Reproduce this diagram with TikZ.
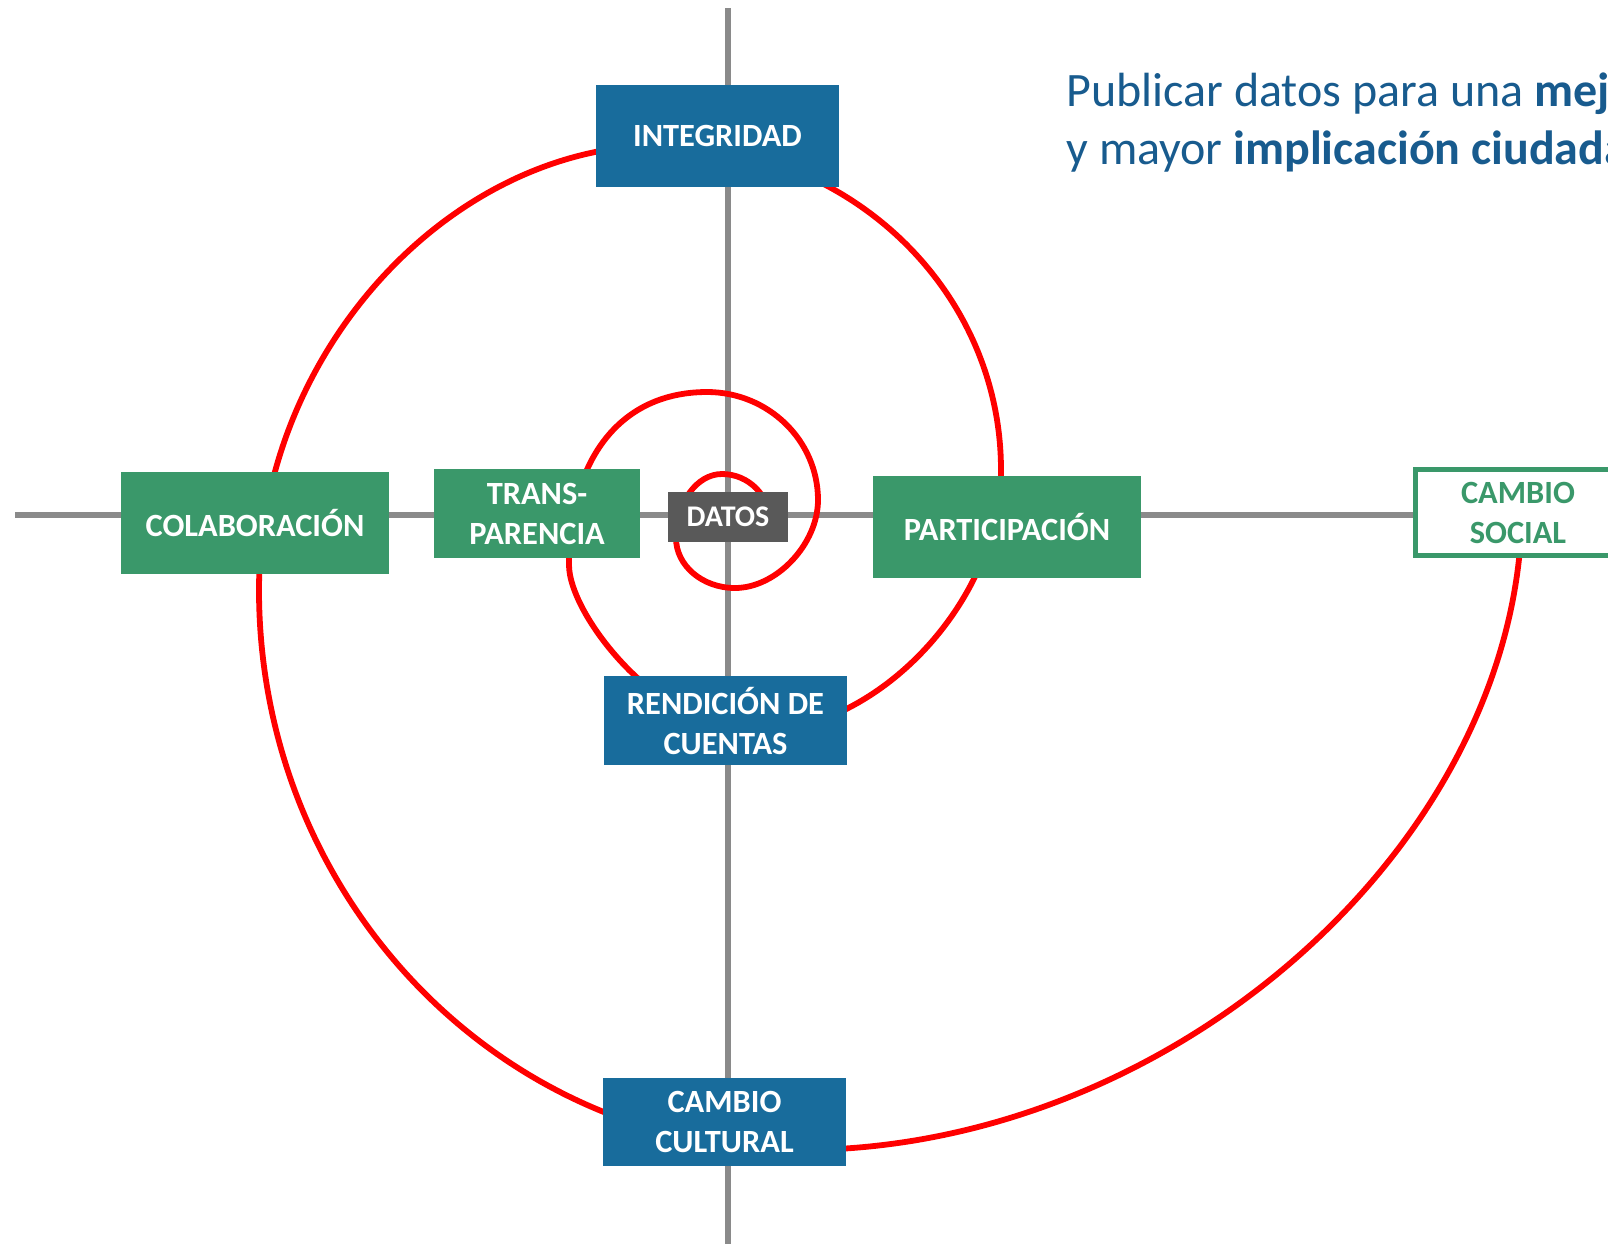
\documentclass[tikz,border=0pt]{standalone}
\usepackage{fontspec}
\setmainfont{Carlito}
\usetikzlibrary{backgrounds}
\definecolor{azul}{RGB}{24,108,156}
\definecolor{verde}{RGB}{58,152,106}
\definecolor{gris}{RGB}{89,89,89}
\definecolor{eje}{RGB}{138,138,138}
\definecolor{titulo}{RGB}{24,91,142}
\begin{document}
\begin{tikzpicture}
[x=0.5pt, y=-0.5pt,
 boxdecorate/.style={shape=rectangle, inner sep=0pt, text=white, align=center,
   font=\fontsize{16.2}{20}\selectfont\bfseries},
 ejedecorate/.style={-, line width=2.6pt, draw=eje},
 espiraldecorate/.style={-, line width=2.9pt, draw=red},
 titulodecorate/.style={anchor=base west, inner sep=0pt, text=titulo,
   font=\fontsize{24}{28.65}\selectfont}]
\useasboundingbox (0,0) rectangle (1608,1244);
%% boxes
\foreach \nodename/\x/\y/\w/\h/\colour/\texto in {
  integridad/717.5/136/243/102/azul/INTEGRIDAD,
  colaboracion/255/523/268/102/verde/COLABORACIÓN,
  transparencia/537/513.5/206/89/verde/{TRANS-\\PARENCIA},
  participacion/1007/527/268/102/verde/PARTICIPACIÓN,
  rendicion/725.5/720.5/243/89/azul/{RENDICIÓN DE\\CUENTAS},
  cultural/724.5/1122/243/88/azul/{CAMBIO\\CULTURAL}}
{
  \node (\nodename) at (\x,\y) [boxdecorate, fill=\colour,
    minimum width=\w*0.5pt, minimum height=\h*0.5pt] {\texto};
}
\node (datos) at (728,517) [boxdecorate, fill=gris, minimum width=60pt,
  minimum height=25pt, font=\fontsize{15}{18}\selectfont\bfseries] {DATOS};
\node (social) at (1518,512.5) [boxdecorate, fill=white, draw=verde,
  line width=2.35pt, text=verde, minimum width=102.5pt,
  minimum height=43pt] {CAMBIO\\SOCIAL};
%% title
\node (titulo1) at (1066,106.7) [titulodecorate]
  {Publicar datos para una \textbf{mej}};
\node (titulo2) at (1066,164) [titulodecorate]
  {y mayor \textbf{implicación ciudada}};
%% axes and spiral
\coordinate (ejeN) at (728,8);
\coordinate (ejeS) at (728,1244);
\coordinate (ejeW) at (15,515);
\foreach \nodename/\x/\y in {r0/770/522, t1/722/474, l1/676/538,
  b1/735/588, r1/818/500, t2/707/392, l2/569/565, b2/755/732,
  r2/1001/470, t3/663/145, l3/259/590, b3/800/1150, r3/1522/505}
{
  \coordinate (\nodename) at (\x,\y);
}
\begin{pgfonlayer}{background}
\draw[ejedecorate] (ejeN) -- (ejeS);
\draw[ejedecorate] (ejeW) -- (ejeW -| social.center);
\draw[espiraldecorate] (r0)
  .. controls +(0,-26.5) and +(26.5,0) .. (t1)
  .. controls +(-25.4,0) and +(0,-35.3) .. (l1)
  .. controls +(0,27.6) and +(-32.6,0) .. (b1)
  .. controls +(41.5,0) and +(0,44) .. (r1)
  .. controls +(0,-59.6) and +(61.3,0) .. (t2)
  .. controls +(-85.6,0) and +(0,-107.3) .. (l2)
  .. controls +(0,50) and +(-95,0) .. (b2)
  .. controls +(123,0) and +(0,131) .. (r2)
  .. controls +(0,-179.5) and +(186.7,0) .. (t3)
  .. controls +(-214,0) and +(0,-236) .. (l3)
  .. controls +(0,309) and +(-298.8,0) .. (b3)
  .. controls +(375,0) and +(0,335) .. (r3);
\end{pgfonlayer}
\end{tikzpicture}
\end{document}
